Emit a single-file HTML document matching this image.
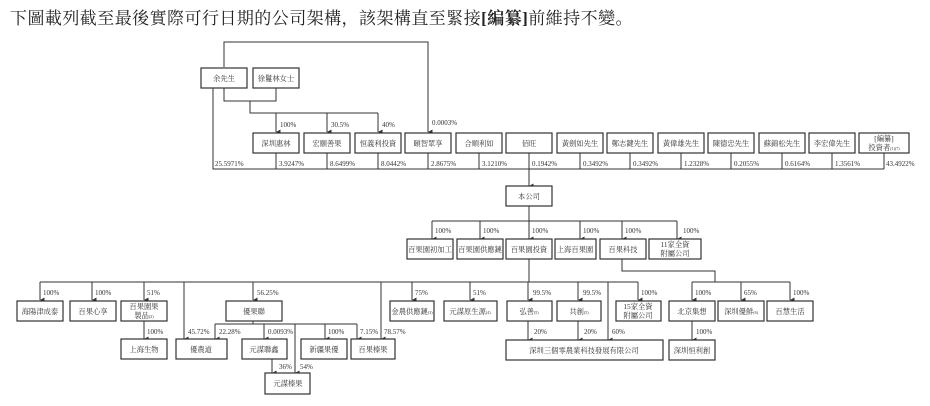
<!DOCTYPE html>
<html><head><meta charset="utf-8"><style>
html,body{margin:0;padding:0;background:#fff;}
svg{display:block}
.t{font-family:"Liberation Serif","Noto Serif CJK SC",serif;font-size:17px;letter-spacing:0.45px;fill:#222}
.b{font-family:"Liberation Serif","Noto Serif CJK SC",serif;font-size:7.3px;fill:#333;text-anchor:middle}
.p{font-family:"Liberation Serif","Noto Serif CJK SC",serif;font-size:7px;fill:#333}
rect{fill:#fff;stroke:#333;stroke-width:1.2}
path{fill:none;stroke:#333;stroke-width:1}
</style></head><body>
<svg width="930" height="406" viewBox="0 0 930 406" xmlns="http://www.w3.org/2000/svg">
<defs><marker id="a" markerWidth="6" markerHeight="6" refX="3" refY="5" orient="auto-start-reverse" markerUnits="userSpaceOnUse"><path d="M0.5,0.5 L3,5 L5.5,0.5 Z" style="fill:#333;stroke:none"/></marker></defs>
<text class="t" x="10" y="24">下圖載列截至最後實際可行日期的公司架構，該架構直至緊接<tspan font-weight="bold">[編纂]</tspan>前維持不變。</text>

<path d="M224,67 V42 H428 V132" marker-end="url(#a)"/>
<path d="M224,88 V101 H276 V88"/>
<path d="M250,101 V113 H378"/>
<path d="M276,113 V132" marker-end="url(#a)"/>
<path d="M327,113 V132" marker-end="url(#a)"/>
<path d="M378,113 V132" marker-end="url(#a)"/>
<path d="M213,88 V169 H884"/>
<path d="M276,152V169 M327,152V169 M378,152V169 M428,152V169 M479,152V169 M529,152V169 M580,152V169 M630,152V169 M681,152V169 M731,152V169 M782,152V169 M832,152V169 M884,152V169"/>
<path d="M529,169 V186" marker-end="url(#a)"/>

<rect x="201" y="68" width="46" height="20"/><text class="b" x="224" y="81">余先生</text>
<rect x="253" y="68" width="46" height="20"/><text class="b" x="276" y="81">徐鬘林女士</text>
<text class="p" x="280" y="127">100%</text><text class="p" x="331" y="127">30.5%</text><text class="p" x="382" y="127">40%</text><text class="p" x="432" y="125">0.0003%</text>

<rect x="253" y="133" width="46" height="20"/><text class="b" x="276" y="146">深圳惠林</text>
<rect x="304" y="133" width="46" height="20"/><text class="b" x="327" y="146">宏願善果</text>
<rect x="355" y="133" width="46" height="20"/><text class="b" x="378" y="146">恒義利投資</text>
<rect x="405" y="133" width="46" height="20"/><text class="b" x="428" y="146">頤智眾享</text>
<rect x="456" y="133" width="46" height="20"/><text class="b" x="479" y="146">合順利如</text>
<rect x="506" y="133" width="46" height="20"/><text class="b" x="529" y="146">佰旺</text>
<rect x="557" y="133" width="46" height="20"/><text class="b" x="580" y="146">黃劍如先生</text>
<rect x="607" y="133" width="46" height="20"/><text class="b" x="630" y="146">鄭志鍵先生</text>
<rect x="658" y="133" width="46" height="20"/><text class="b" x="681" y="146">黃偉雄先生</text>
<rect x="708" y="133" width="46" height="20"/><text class="b" x="731" y="146">陳德忠先生</text>
<rect x="759" y="133" width="46" height="20"/><text class="b" x="782" y="146">蘇錦松先生</text>
<rect x="809" y="133" width="46" height="20"/><text class="b" x="832" y="146">李宏偉先生</text>
<rect x="859" y="133" width="50" height="20"/><text class="b" x="884" y="141">[編纂]</text><text class="b" x="884" y="150">投資者<tspan font-size="4">(1)(7)</tspan></text>

<text class="p" x="215" y="166">25.5971%</text>
<text class="p" x="279" y="166">3.9247%</text><text class="p" x="330" y="166">8.6499%</text><text class="p" x="381" y="166">8.0442%</text><text class="p" x="431" y="166">2.8675%</text><text class="p" x="482" y="166">3.1210%</text><text class="p" x="532" y="166">0.1942%</text><text class="p" x="583" y="166">0.3492%</text><text class="p" x="633" y="166">0.3492%</text><text class="p" x="684" y="166">1.2328%</text><text class="p" x="734" y="166">0.2055%</text><text class="p" x="785" y="166">0.6164%</text><text class="p" x="835" y="166">1.3561%</text><text class="p" x="886" y="166">43.4922%</text>

<rect x="506" y="186" width="46" height="20"/><text class="b" x="529" y="199">本公司</text>

<path d="M529,206 V221 M432,221 H677"/>
<path d="M432,221V239" marker-end="url(#a)"/><path d="M480,221V239" marker-end="url(#a)"/><path d="M529,221V239" marker-end="url(#a)"/><path d="M580,221V239" marker-end="url(#a)"/><path d="M622,221V239" marker-end="url(#a)"/><path d="M677,221V239" marker-end="url(#a)"/>
<text class="p" x="435" y="233">100%</text><text class="p" x="483" y="233">100%</text><text class="p" x="532" y="233">100%</text><text class="p" x="583" y="233">100%</text><text class="p" x="625" y="233">100%</text><text class="p" x="683" y="233">100%</text>
<rect x="407" y="239" width="46" height="20"/><text class="b" x="430" y="252">百果園初加工</text>
<rect x="457" y="239" width="46" height="20"/><text class="b" x="480" y="252">百果園供應鏈</text>
<rect x="506" y="239" width="46" height="20"/><text class="b" x="529" y="252">百果園投資</text>
<rect x="555" y="239" width="41" height="20"/><text class="b" x="575" y="252">上海百果園</text>
<rect x="600" y="239" width="46" height="20"/><text class="b" x="623" y="252">百果科技</text>
<rect x="649" y="239" width="52" height="20"/><text class="b" x="675" y="247">11家全資</text><text class="b" x="675" y="256">附屬公司</text>

<path d="M529,259 V282 M40,282 H638 M622,259 V271 H715 V282 M692,282 H790"/>
<path d="M40,282V300" marker-end="url(#a)"/><path d="M92,282V300" marker-end="url(#a)"/><path d="M144,282V300" marker-end="url(#a)"/><path d="M253,282V300" marker-end="url(#a)"/><path d="M412,282V300" marker-end="url(#a)"/><path d="M470,282V300" marker-end="url(#a)"/><path d="M528,282V300" marker-end="url(#a)"/><path d="M578,282V300" marker-end="url(#a)"/><path d="M638,282V300" marker-end="url(#a)"/><path d="M692,282V300" marker-end="url(#a)"/><path d="M741,282V300" marker-end="url(#a)"/><path d="M790,282V300" marker-end="url(#a)"/>
<path d="M184,282V339" marker-end="url(#a)"/><path d="M381,282V339" marker-end="url(#a)"/><path d="M608,282V340" marker-end="url(#a)"/>
<text class="p" x="43" y="295">100%</text><text class="p" x="95" y="295">100%</text><text class="p" x="147" y="295">51%</text><text class="p" x="257" y="295">56.25%</text><text class="p" x="415" y="295">75%</text><text class="p" x="473" y="295">51%</text><text class="p" x="533" y="295">99.5%</text><text class="p" x="583" y="295">99.5%</text><text class="p" x="641" y="295">100%</text><text class="p" x="695" y="295">100%</text><text class="p" x="744" y="295">65%</text><text class="p" x="793" y="295">100%</text>

<rect x="17" y="301" width="46" height="20"/><text class="b" x="40" y="314">海陽津成泰</text>
<rect x="70" y="301" width="46" height="20"/><text class="b" x="93" y="314">百果心享</text>
<rect x="121" y="301" width="46" height="20"/><text class="b" x="144" y="309">百果園果</text><text class="b" x="144" y="318">製品<tspan font-size="4">(2)</tspan></text>
<rect x="226" y="301" width="56" height="20"/><text class="b" x="254" y="314">優果聯</text>
<rect x="390" y="301" width="44" height="20"/><text class="b" x="412" y="314">金農供應鏈<tspan font-size="4">(3)</tspan></text>
<rect x="444" y="301" width="53" height="20"/><text class="b" x="470" y="314">元謀原生源<tspan font-size="4">(4)</tspan></text>
<rect x="507" y="301" width="45" height="20"/><text class="b" x="529" y="314">弘善<tspan font-size="4">(5)</tspan></text>
<rect x="557" y="301" width="44" height="20"/><text class="b" x="579" y="314">共創<tspan font-size="4">(5)</tspan></text>
<rect x="616" y="301" width="45" height="20"/><text class="b" x="638" y="309">15家全資</text><text class="b" x="638" y="318">附屬公司</text>
<rect x="669" y="301" width="46" height="20"/><text class="b" x="692" y="314">北京集想</text>
<rect x="718" y="301" width="46" height="20"/><text class="b" x="741" y="314">深圳優鮮<tspan font-size="4">(6)</tspan></text>
<rect x="767" y="301" width="46" height="20"/><text class="b" x="790" y="314">百慧生活</text>

<path d="M144,321V339" marker-end="url(#a)"/>
<path d="M253,321 V324 M215,324 H357"/>
<path d="M215,324V339" marker-end="url(#a)"/><path d="M264,324V339" marker-end="url(#a)"/><path d="M325,324V339" marker-end="url(#a)"/><path d="M357,324V339" marker-end="url(#a)"/><path d="M295,324V373" marker-end="url(#a)"/>
<path d="M272,359V373" marker-end="url(#a)"/>
<path d="M528,321V340" marker-end="url(#a)"/><path d="M578,321V340" marker-end="url(#a)"/><path d="M692,321V340" marker-end="url(#a)"/>
<text class="p" x="147" y="334">100%</text><text class="p" x="188" y="334">45.72%</text><text class="p" x="219" y="334">22.28%</text><text class="p" x="268" y="334">0.0093%</text><text class="p" x="328" y="334">100%</text><text class="p" x="360" y="334">7.15%</text><text class="p" x="384" y="334">78.57%</text>
<text class="p" x="534" y="334">20%</text><text class="p" x="584" y="334">20%</text><text class="p" x="612" y="334">60%</text><text class="p" x="696" y="334">100%</text>
<text class="p" x="279" y="369">36%</text><text class="p" x="300" y="369">54%</text>

<rect x="121" y="339" width="46" height="20"/><text class="b" x="144" y="352">上海生物</text>
<rect x="176" y="339" width="51" height="20"/><text class="b" x="201" y="352">優農道</text>
<rect x="242" y="339" width="45" height="20"/><text class="b" x="264" y="352">元謀聯鑫</text>
<rect x="301" y="339" width="46" height="20"/><text class="b" x="324" y="352">新疆果優</text>
<rect x="351" y="339" width="44" height="20"/><text class="b" x="373" y="352">百果榛果</text>
<rect x="506" y="340" width="157" height="20"/><text class="b" x="584" y="353">深圳三個零農業科技發展有限公司</text>
<rect x="669" y="340" width="46" height="20"/><text class="b" x="692" y="353">深圳恒利創</text>
<rect x="265" y="373" width="45" height="21"/><text class="b" x="288" y="386">元謀榛果</text>
</svg>
</body></html>
